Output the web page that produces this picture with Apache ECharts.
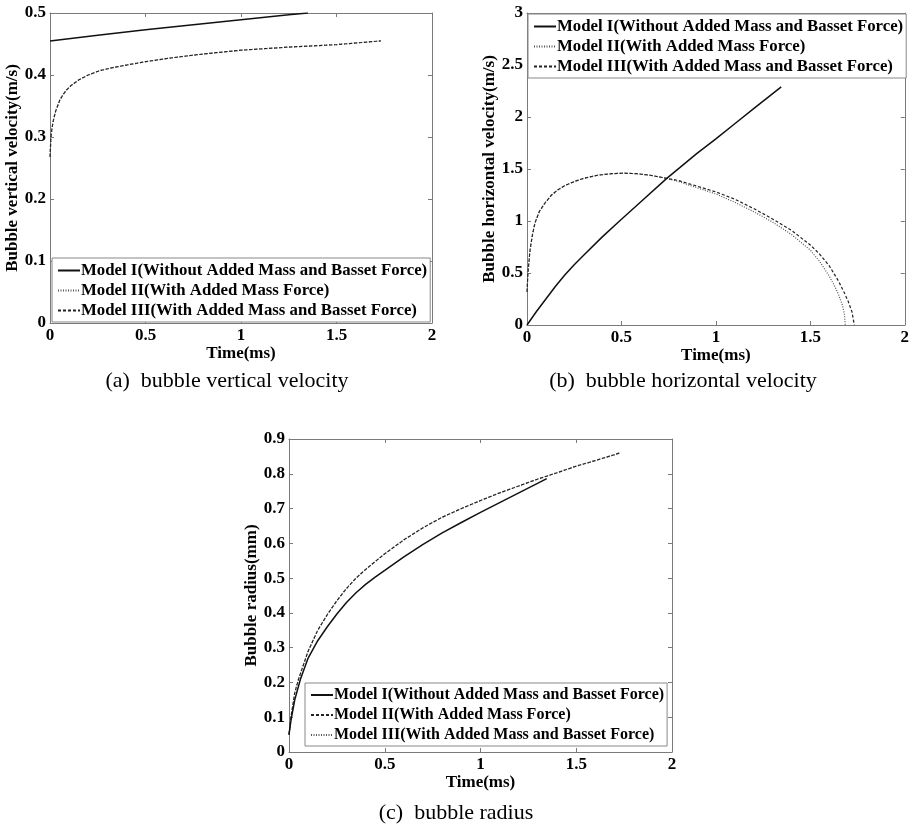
<!DOCTYPE html>
<html><head><meta charset="utf-8">
<script src="https://cdn.jsdelivr.net/npm/echarts@6/dist/echarts.min.js"></script>
<style>html,body{margin:0;padding:0;background:#fff}#c{width:912px;height:833px}</style>
</head><body><div id="c"></div>
<script>
// ---------- data ----------
var xTicks = [0, 0.5, 1, 1.5, 2];
var aYTicks = [0, 0.1, 0.2, 0.3, 0.4, 0.5];
var bYTicks = [0, 0.5, 1, 1.5, 2, 2.5, 3];
var cYTicks = [0, 0.1, 0.2, 0.3, 0.4, 0.5, 0.6, 0.7, 0.8, 0.9];

var legendLabels = [
  'Model I(Without Added Mass and Basset Force)',
  'Model II(With Added Mass Force)',
  'Model III(With Added Mass and Basset Force)'
];
var captions = ['(a)  bubble vertical velocity', '(b)  bubble horizontal velocity', '(c)  bubble radius'];
var xName = 'Time(ms)';
var yNames = ['Bubble vertical velocity(m/s)', 'Bubble horizontal velocity(m/s)', 'Bubble radius(mm)'];

// (a) vertical velocity
var aT1 = [0, 0.25, 0.5, 0.75, 1.0, 1.25, 1.35];
var aV1 = [0.455, 0.464, 0.473, 0.481, 0.489, 0.497, 0.5];
var aT2 = [0, 0.005, 0.01, 0.017, 0.03, 0.052, 0.07, 0.087, 0.11, 0.15, 0.2, 0.26, 0.33, 0.4, 0.5, 0.62, 0.75, 0.87, 1.0, 1.25, 1.5, 1.733];
var aV2 = [0.268, 0.30, 0.313, 0.326, 0.342, 0.36, 0.369, 0.376, 0.383, 0.392, 0.400, 0.407, 0.412, 0.416, 0.4215, 0.427, 0.432, 0.436, 0.44, 0.445, 0.449, 0.455];
var aT3 = [0, 0.005, 0.01, 0.017, 0.03, 0.052, 0.07, 0.087, 0.11, 0.15, 0.2, 0.26, 0.33, 0.4, 0.5, 0.62, 0.75, 0.87, 1.0, 1.25, 1.5, 1.733];
var aV3 = [0.268, 0.30, 0.313, 0.326, 0.342, 0.36, 0.369, 0.376, 0.383, 0.392, 0.400, 0.407, 0.412, 0.416, 0.4215, 0.427, 0.432, 0.436, 0.44, 0.445, 0.449, 0.455];

// (b) horizontal velocity
var bT1 = [0, 0.05, 0.1, 0.15, 0.2, 0.25, 0.3, 0.4, 0.49, 0.6, 0.74, 0.9, 1.0, 1.1, 1.2, 1.346];
var bV1 = [0, 0.13, 0.25, 0.37, 0.48, 0.58, 0.67, 0.85, 1.0, 1.18, 1.41, 1.65, 1.79, 1.935, 2.08, 2.29];
var bT2 = [0, 0.005, 0.016, 0.03, 0.042, 0.065, 0.094, 0.13, 0.164, 0.2, 0.251, 0.3, 0.373, 0.45, 0.513, 0.58, 0.653, 0.74, 0.8, 0.9, 1.0, 1.1, 1.2, 1.3, 1.4, 1.5, 1.55, 1.6, 1.63, 1.65, 1.67, 1.68, 1.685];
var bV2 = [0.32, 0.5, 0.72, 0.88, 0.98, 1.09, 1.17, 1.25, 1.30, 1.34, 1.38, 1.41, 1.44, 1.455, 1.46, 1.455, 1.44, 1.41, 1.38, 1.32, 1.26, 1.18, 1.09, 0.99, 0.87, 0.72, 0.61, 0.47, 0.37, 0.29, 0.19, 0.11, 0];
var bT3 = [0, 0.005, 0.016, 0.03, 0.042, 0.065, 0.094, 0.13, 0.164, 0.2, 0.251, 0.3, 0.373, 0.45, 0.513, 0.58, 0.653, 0.74, 0.8, 0.9, 1.0, 1.1, 1.2, 1.3, 1.4, 1.5, 1.55, 1.6, 1.65, 1.68, 1.7, 1.72, 1.733];
var bV3 = [0.32, 0.5, 0.72, 0.88, 0.98, 1.09, 1.17, 1.25, 1.30, 1.34, 1.38, 1.41, 1.44, 1.455, 1.46, 1.455, 1.44, 1.41, 1.39, 1.335, 1.28, 1.21, 1.12, 1.02, 0.91, 0.77, 0.68, 0.57, 0.42, 0.31, 0.23, 0.13, 0];

// (c) radius
var cT1 = [0, 0.01, 0.03, 0.06, 0.1, 0.15, 0.2, 0.25, 0.3, 0.35, 0.4, 0.45, 0.5, 0.6, 0.7, 0.8, 0.9, 1.0, 1.1, 1.2, 1.3, 1.346];
var cV1 = [0.05, 0.09, 0.15, 0.21, 0.27, 0.32, 0.36, 0.397, 0.43, 0.458, 0.482, 0.503, 0.522, 0.561, 0.597, 0.630, 0.660, 0.689, 0.717, 0.745, 0.773, 0.786];
var cT2 = [0, 0.01, 0.03, 0.05, 0.1, 0.15, 0.2, 0.25, 0.3, 0.35, 0.4, 0.5, 0.6, 0.7, 0.8, 0.9, 1.0, 1.1, 1.2, 1.3, 1.4, 1.5, 1.6, 1.7, 1.733];
var cV2 = [0.05, 0.1, 0.17, 0.21, 0.29, 0.35, 0.395, 0.435, 0.47, 0.50, 0.525, 0.57, 0.61, 0.645, 0.675, 0.70, 0.723, 0.745, 0.765, 0.785, 0.803, 0.822, 0.838, 0.855, 0.861];
var cT3 = [0, 0.01, 0.03, 0.05, 0.1, 0.15, 0.2, 0.25, 0.3, 0.35, 0.4, 0.5, 0.6, 0.7, 0.8, 0.9, 1.0, 1.1, 1.2, 1.3, 1.4, 1.5, 1.6, 1.7, 1.733];
var cV3 = [0.05, 0.1, 0.17, 0.21, 0.29, 0.35, 0.395, 0.435, 0.47, 0.50, 0.525, 0.57, 0.61, 0.645, 0.675, 0.70, 0.723, 0.745, 0.765, 0.785, 0.803, 0.822, 0.838, 0.855, 0.861];

// ---------- build ----------
var FONT = '"Liberation Serif", "Times New Roman", serif';
function zip(t, v) { return t.map(function (x, i) { return [x, v[i]]; }); }

var grids = [
  { left: 50, top: 13, width: 382, height: 310 },
  { left: 527, top: 13, width: 382, height: 312 },
  { left: 289, top: 439, width: 383, height: 313 }
];
var yTickSets = [aYTicks, bYTicks, cYTicks];
var yNameGaps = [25, 24, 26];

var AX = '#7a7a7a';
var xAxes = [], yAxes = [];
grids.forEach(function (g, i) {
  var lbl = { color: '#000', fontFamily: FONT, fontWeight: 'bold', fontSize: 17 };
  var nm = { color: '#000', fontFamily: FONT, fontWeight: 'bold', fontSize: 17 };
  xAxes.push({
    gridIndex: i, type: 'value', position: 'bottom',
    min: xTicks[0], max: xTicks[xTicks.length - 1], interval: xTicks[1] - xTicks[0],
    axisLine: { show: true, onZero: false, lineStyle: { color: AX, width: 1 } },
    axisTick: { show: true, inside: true, length: 4, lineStyle: { color: AX } },
    axisLabel: Object.assign({ margin: 4 }, lbl),
    splitLine: { show: false },
    name: xName, nameLocation: 'middle', nameGap: 20, nameTextStyle: nm
  });
  xAxes.push({
    gridIndex: i, type: 'value', position: 'top',
    min: xTicks[0], max: xTicks[xTicks.length - 1], interval: xTicks[1] - xTicks[0],
    axisLine: { show: true, onZero: false, lineStyle: { color: AX, width: 1 } },
    axisTick: { show: true, inside: true, length: 4, lineStyle: { color: AX } },
    axisLabel: { show: false }, splitLine: { show: false }
  });
  var yt = yTickSets[i];
  yAxes.push({
    gridIndex: i, type: 'value', position: 'left',
    min: yt[0], max: yt[yt.length - 1], interval: yt[1] - yt[0],
    axisLine: { show: true, onZero: false, lineStyle: { color: AX, width: 1 } },
    axisTick: { show: true, inside: true, length: 4, lineStyle: { color: AX } },
    axisLabel: Object.assign({ margin: 4 }, lbl),
    splitLine: { show: false },
    name: yNames[i], nameLocation: 'middle', nameGap: yNameGaps[i], nameTextStyle: nm
  });
  yAxes.push({
    gridIndex: i, type: 'value', position: 'right',
    min: yt[0], max: yt[yt.length - 1], interval: yt[1] - yt[0],
    axisLine: { show: true, onZero: false, lineStyle: { color: AX, width: 1 } },
    axisTick: { show: true, inside: true, length: 4, lineStyle: { color: AX } },
    axisLabel: { show: false }, splitLine: { show: false }
  });
});

var SOLID = { type: 'solid', width: 1.5, color: '#111' };
var DASH = { type: [3, 2], width: 1.2, color: '#222' };
var DOT = { type: [1, 1.5], width: 1.2, color: '#555' };

function ser(name, gi, data, ls, z) {
  return {
    name: name, type: 'line', xAxisIndex: gi * 2, yAxisIndex: gi * 2,
    data: data, symbol: 'none', showSymbol: false,
    smooth: false,
    lineStyle: ls, itemStyle: { color: ls.color }, z: z, silent: true, animation: false
  };
}

var series = [
  ser('a1', 0, zip(aT1, aV1), SOLID, 5),
  ser('a2', 0, zip(aT2, aV2), DOT, 3),
  ser('a3', 0, zip(aT3, aV3), DASH, 4),
  ser('b1', 1, zip(bT1, bV1), SOLID, 5),
  ser('b2', 1, zip(bT2, bV2), DOT, 3),
  ser('b3', 1, zip(bT3, bV3), DASH, 4),
  ser('c1', 2, zip(cT1, cV1), SOLID, 5),
  ser('c2', 2, zip(cT2, cV2), DASH, 4),
  ser('c3', 2, zip(cT3, cV3), DOT, 3)
];

var labelMap = {};
['a', 'b', 'c'].forEach(function (p) {
  labelMap[p + '1'] = legendLabels[0];
  labelMap[p + '2'] = legendLabels[1];
  labelMap[p + '3'] = legendLabels[2];
});

function legend(p, left, top, fs, gap) {
  return {
    data: [p + '1', p + '2', p + '3'], orient: 'vertical', left: left, top: top,
    itemWidth: 22, itemHeight: 14, itemGap: gap, padding: [4, 3, 3, 5],
    borderColor: '#888', borderWidth: 1, backgroundColor: '#fff',
    selectedMode: false, z: 10,
    itemStyle: { opacity: 0, borderWidth: 0 },
    formatter: function (n) { return labelMap[n]; },
    textStyle: { color: '#000', fontFamily: FONT, fontWeight: 'bold', fontSize: fs, padding: [0, 0, 0, -4] }
  };
}

var graphics = [];
[[227, 381], [683, 381], [456, 813]].forEach(function (p, i) {
  graphics.push({ type: 'text', x: p[0], y: p[1], silent: true,
    style: { text: captions[i], fill: '#000', font: '22px ' + FONT, textAlign: 'center', textVerticalAlign: 'middle' } });
});

var chart = echarts.init(document.getElementById('c'), null, { renderer: 'canvas' });
chart.setOption({
  animation: false,
  backgroundColor: '#fff',
  grid: grids,
  xAxis: xAxes,
  yAxis: yAxes,
  legend: [legend('a', 52, 258, 16.8, 3), legend('b', 528, 14, 16.8, 3), legend('c', 305, 683, 16, 4)],
  series: series,
  graphic: graphics
});
</script></body></html>
